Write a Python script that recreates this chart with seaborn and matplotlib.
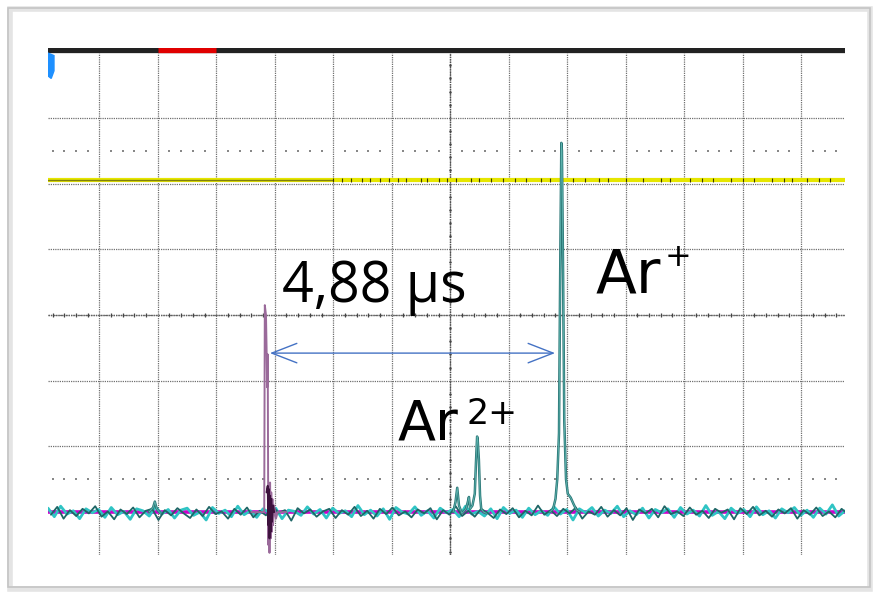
import numpy as np
import matplotlib
matplotlib.use("Agg")
import matplotlib.pyplot as plt
import seaborn as sns
from matplotlib.patches import Rectangle, Polygon

# grid units = oscilloscope divisions, y=0 is the centre line
baseline = -3.0
yellow_level = 2.06

cyan_noise = [
    0.06, -0.07, 0.09, -0.03, 0.02, -0.10, 0.05, -0.01, 0.04, -0.08,
    0.07, -0.04, 0.01, -0.11, 0.05, 0.02, -0.06, 0.08, -0.03, 0.04,
    -0.09, 0.03, 0.06, -0.05, 0.00, -0.12, 0.07, -0.02, 0.03, -0.07,
    0.09, -0.04, 0.02, -0.08, 0.05, -0.01, 0.06, -0.10, 0.03, 0.01,
    -0.05, 0.08, -0.03, 0.04, -0.09, 0.06, -0.02, 0.02, -0.07, 0.10,
    -0.04, 0.03, -0.06, 0.05, -0.11, 0.07, 0.00, -0.03, 0.08, -0.05,
    0.02, -0.09, 0.06, -0.01, 0.04, -0.07, 0.09, -0.03, 0.01, -0.06,
    0.05, -0.10, 0.07, -0.02, 0.03, -0.08, 0.06, -0.04, 0.02, -0.05,
    0.08, -0.03, 0.04, -0.12, 0.05, -0.01, 0.07, -0.06, 0.03, -0.02,
    0.09, -0.07, 0.02, -0.04, 0.06, -0.09, 0.04, -0.01, 0.05, -0.08,
    0.07, -0.03, 0.03, -0.06, 0.10, -0.05, 0.01, -0.10, 0.06, -0.02,
    0.04, -0.07, 0.08, -0.04, 0.02, -0.09, 0.05, -0.01, 0.07, -0.05,
    0.03, -0.08, 0.06, -0.03, 0.11, -0.06, 0.02,
]
teal_noise = [
    -0.04, 0.08, -0.10, 0.03, -0.06, 0.05, -0.02, 0.09, -0.07, 0.01,
    -0.11, 0.04, -0.03, 0.07, -0.08, 0.02, 0.05, -0.12, 0.03, -0.05,
    0.06, -0.02, -0.09, 0.04, -0.06, 0.08, -0.03, 0.01, -0.10, 0.05,
    -0.04, 0.07, -0.08, 0.02, -0.05, 0.09, -0.01, 0.03, -0.13, 0.06,
    -0.02, 0.04, -0.07, 0.01, 0.05, -0.09, 0.03, -0.04, 0.08, -0.06,
    0.02, -0.10, 0.05, -0.03, 0.07, -0.05, 0.01, -0.08, 0.04, -0.02,
    0.06, -0.11, 0.03, -0.04, 0.09, -0.06, 0.02, -0.07, 0.05, -0.01,
    -0.09, 0.04, -0.03, 0.06, -0.08, 0.02, -0.05, 0.10, -0.04, 0.03,
    -0.06, 0.05, -0.02, 0.07, -0.10, 0.01, -0.04, 0.08, -0.07, 0.03,
    -0.05, 0.06, -0.12, 0.04, -0.02, 0.05, -0.08, 0.09, -0.03, 0.01,
    -0.06, 0.07, -0.04, 0.02, -0.09, 0.05, -0.01, 0.04, -0.11, 0.06,
    -0.03, 0.08, -0.05, 0.02, -0.07, 0.04, -0.02, 0.06, -0.10, 0.03,
    -0.04, 0.07, -0.06, 0.01, -0.08, 0.05, -0.03,
]

# Ar2+ group (two small precursors + main peak)
ar2_x = [6.05, 6.09, 6.12, 6.15, 6.20, 6.27, 6.30, 6.32, 6.34, 6.38,
         6.42, 6.44, 6.46, 6.47, 6.49, 6.51, 6.53, 6.57, 6.62]
ar2_y = [-3.0, -2.85, -2.63, -2.9, -3.02, -2.95, -2.85, -2.77, -2.95, -2.9,
         -2.72, -2.25, -1.85, -1.9, -2.2, -2.75, -2.95, -3.0, -3.02]
# Ar+ peak
ar1_x = [7.70, 7.76, 7.80, 7.83, 7.86, 7.88, 7.90, 7.91, 7.93, 7.95,
         7.98, 8.01, 8.06, 8.11, 8.16, 8.22]
ar1_y = [-3.0, -2.95, -2.8, -2.5, -1.8, 0.6, 2.62, 2.5, 0.6, -1.6,
         -2.5, -2.72, -2.78, -2.88, -2.97, -3.0]
# small bump near the left
bump_x = [0.85, 0.92, 0.95, 0.98, 1.05]
bump_y = [-3.0, -2.93, -2.84, -2.95, -3.02]
# start pulse (purple)
pulse_x = [2.60, 2.80, 2.82, 2.83, 2.85, 2.86, 2.87, 2.88, 2.89, 2.90,
           2.91, 2.92, 2.93, 2.94, 2.95, 2.96, 2.97, 2.99, 3.02, 3.05, 3.20]
pulse_y = [-3.0, -3.0, -3.0, 0.15, 0.0, -0.5, -1.1, -0.6, -3.5, -2.6,
           -3.62, -2.55, -3.4, -2.7, -3.3, -2.8, -3.2, -2.9, -3.1, -3.0, -3.0]
# dark ringing just after the pulse
ring_x = [2.86, 2.88, 2.89, 2.90, 2.91, 2.92, 2.93, 2.94, 2.95, 2.97, 2.99]
ring_y = [-2.7, -2.6, -3.2, -2.65, -3.4, -2.75, -3.3, -2.8, -3.15, -2.9, -3.0]
# dark specks on the yellow trace
speck_x = [4.0, 4.15, 4.3, 4.5, 4.62, 4.8, 4.95, 5.1, 5.25, 5.5, 5.6, 5.8,
           5.95, 6.1, 6.35, 6.5, 6.7, 6.9, 7.1, 7.3, 7.55, 7.7, 8.1, 8.3,
           8.55, 8.7, 9.0, 9.3, 9.6, 9.75, 10.1, 10.3, 10.5, 10.8, 11.0,
           11.2, 11.5, 11.7, 11.85, 12.1, 12.3, 12.5]

x_lo, x_hi = -0.877, 12.75
y_lo, y_hi = -3.653, 4.064

sns.set_style("white")
plt.rcParams['font.family'] = ['Open Sans', 'DejaVu Sans']

fig = plt.figure(figsize=(8.76, 5.93), dpi=100)
fig.patch.set_facecolor('white')
# slide frame with soft shadow
fig.patches.append(Rectangle((10 / 876, 4 / 593), 860 / 876, 580 / 593,
                             transform=fig.transFigure, fill=False,
                             edgecolor='#e4e4e4', lw=4, zorder=0))
fig.patches.append(Rectangle((8 / 876, 6 / 593), 862 / 876, 579 / 593,
                             transform=fig.transFigure, fill=False,
                             edgecolor='#c4c4c4', lw=1.2, zorder=0))

ax = fig.add_axes([48 / 876, 1 - 555 / 593, 797 / 876, 507 / 593])
ax.set_xlim(x_lo, x_hi)
ax.set_ylim(y_lo, y_hi)
for s in ax.spines.values():
    s.set_visible(False)
ax.set_xticks([])
ax.set_yticks([])

grid_kw = dict(color='#707070', lw=0.9, ls=(0, (1, 0.8)), zorder=1)
for gx in range(0, 13):
    ax.plot([gx, gx], [y_lo, 3.99], **grid_kw)
for gy in range(-3, 4):
    ax.axhline(gy, **grid_kw)
ax.plot([6, 6], [y_lo, 3.99], color='#505050', lw=1.0, ls=(0, (1, 0.8)), zorder=1)
ax.axhline(0, color='#606060', lw=1.0, ls=(0, (1, 0.8)), zorder=1)

# tick marks on the centre lines and dot rows
sub = np.arange(-0.8, 12.75, 0.2)
sub = sub[np.abs(sub - np.round(sub)) > 0.05]
ax.scatter(sub, np.zeros_like(sub), marker='|', s=12, color='#444444', lw=0.9, zorder=1)
for dy in (2.5, -2.5):
    ax.scatter(sub, np.full_like(sub, dy), marker='s', s=1.5, color='#888888', lw=0, zorder=1)
vsub = np.arange(-3.6, 4.0, 0.2)
vsub = vsub[np.abs(vsub - np.round(vsub)) > 0.05]
ax.scatter(np.full_like(vsub, 6), vsub, marker='o', s=3, color='#444444', lw=0, zorder=1)

# top status bar
ax.axhline(4.03, color='#222222', lw=3.8, zorder=5)
ax.plot([1, 2], [4.03, 4.03], color='#e00000', lw=3.8, zorder=6, solid_capstyle='butt')
ax.add_patch(Polygon([[0.0, 0.99], [0.0075, 0.985], [0.0075, 0.955], [0.004, 0.94], [0.0, 0.945]],
                     closed=True, transform=ax.transAxes, color='#1e90ff', zorder=6))

# yellow trace
ax.plot([x_lo, x_hi], [yellow_level, yellow_level], color='#e6e600', lw=3.0, zorder=3)
ax.plot([x_lo, 4.0], [yellow_level, yellow_level], color='#6e6e10', lw=1.0, alpha=0.85, zorder=4)
ax.scatter(speck_x, [yellow_level] * len(speck_x), marker='|', s=7, color='#3a3a00', lw=0.8, zorder=4)

# baseline traces
ax.plot([x_lo, x_hi], [baseline, baseline], color='#cc00cc', lw=2.6, zorder=2)
n = len(cyan_noise)
nx = np.linspace(x_lo, x_hi, n)
sns.lineplot(x=nx, y=baseline + np.array(cyan_noise), ax=ax, color='#2fc4c4',
             lw=2.0, estimator=None, sort=False, zorder=3)
sns.lineplot(x=nx + 0.05, y=baseline + np.array(teal_noise), ax=ax, color='#1e6666',
             lw=1.3, estimator=None, sort=False, zorder=3)

sns.lineplot(x=pulse_x, y=pulse_y, ax=ax, color='#9a6a9a', lw=1.4,
             estimator=None, sort=False, zorder=4)
sns.lineplot(x=ring_x, y=ring_y, ax=ax, color='#3d123d', lw=1.4,
             estimator=None, sort=False, zorder=4)
for px, py in ((bump_x, bump_y), (ar2_x, ar2_y), (ar1_x, ar1_y)):
    sns.lineplot(x=px, y=py, ax=ax, color='#2a7676', lw=1.8,
                 estimator=None, sort=False, zorder=4)
    sns.lineplot(x=px, y=py, ax=ax, color='#5fb5b0', lw=0.6,
                 estimator=None, sort=False, zorder=4)

# time-of-flight arrow
ax.annotate('', xy=(2.87, -0.58), xytext=(7.84, -0.58),
            arrowprops=dict(arrowstyle='<->,head_length=0.9,head_width=0.35',
                            color='#4472c4', lw=1.0, mutation_scale=20), zorder=7)

lbl = ['DejaVu Sans']
ax.text(3.12, 0.2, '4,88 µs', fontsize=40, color='black', va='baseline', ha='left', zorder=8)
ax.text(8.49, 0.335, 'Ar', fontsize=43, family=lbl,
        color='black', va='baseline', ha='left', zorder=8)
ax.text(9.66, 0.88, '+', fontsize=23, family=lbl,
        color='black', va='center', ha='left', zorder=8)
ax.text(5.10, -1.90, 'Ar', fontsize=40, family=lbl,
        color='black', va='baseline', ha='left', zorder=8)
ax.text(6.28, -1.66, '2+', fontsize=25, family=lbl,
        color='black', va='baseline', ha='left', zorder=8)

fig.savefig('out.png', dpi=100)
